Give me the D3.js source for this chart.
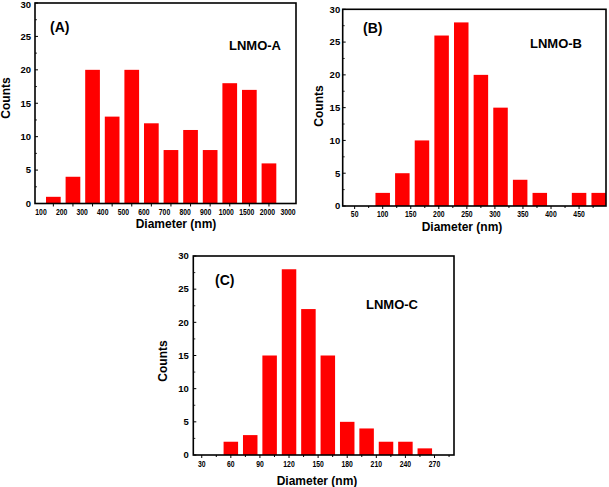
<!DOCTYPE html>
<html><head><meta charset="utf-8">
<script src="https://cdn.jsdelivr.net/npm/d3@7"></script>
<style>
html,body{margin:0;padding:0;background:#fff;}
text{font-family:"Liberation Sans",Arial,Helvetica,sans-serif;font-weight:bold;fill:#000;}
</style></head>
<body><svg id="c" width="609" height="487"></svg>
<script>
// ---- data ----
const binsA = ["100-200","200-300","300-400","400-500","500-600","600-700","700-800","800-900","900-1000","1000-1500","1500-2000","2000-3000"];
const countsA = [1,4,20,13,20,12,8,11,8,18,17,6];
const tickLabelsA = ["100","200","300","400","500","600","700","800","900","1000","1500","2000","3000"];

const binsB = [100,135,170,205,240,275,310,345,380,415,450,485];
const countsB = [2,5,10,26,28,20,15,4,2,0,2,2];
const tickLabelsB = [50,100,150,200,250,300,350,400,450];

const binsC = [60,80,100,120,140,160,180,200,220,240,260];
const countsC = [2,3,15,28,22,15,5,4,2,2,1];
const tickLabelsC = [30,60,90,120,150,180,210,240,270];

const yTicks = [0,5,10,15,20,25,30];
const yMinor = [2.5,7.5,12.5,17.5,22.5,27.5];

const svg = d3.select("#c");
const RED = "#ff0000";

function frame(g, L, R, T, B){
  g.append("rect").attr("x",L).attr("y",T).attr("width",R-L).attr("height",B-T)
   .attr("fill","none").attr("stroke","#000").attr("stroke-width",1.6);
}
function yAxis(g, y, L, gap){
  yTicks.forEach(t=>{
    g.append("line").attr("x1",L).attr("x2",L+3).attr("y1",y(t)).attr("y2",y(t)).attr("stroke","#000").attr("stroke-width",1);
    g.append("text").attr("x",L-gap).attr("y",Math.max(y(t),4.2)).attr("dy","0.35em").attr("text-anchor","end")
     .attr("font-size",9.5).text(t);
  });
  yMinor.forEach(t=>{
    g.append("line").attr("x1",L).attr("x2",L+2).attr("y1",y(t)).attr("y2",y(t)).attr("stroke","#000").attr("stroke-width",0.8);
  });
}
function xLabel(g, x, yb, s){
  g.append("text").attr("x",x).attr("y",yb).attr("text-anchor","middle")
   .attr("font-size",9.5).attr("textLength",String(s).length*3.8).attr("lengthAdjust","spacingAndGlyphs").text(s);
}
function titles(g, cx, cyb, countsX, countsY, tag, tagX, tagY, name, nameX, nameY){
  g.append("text").attr("x",cx).attr("y",cyb).attr("text-anchor","middle").attr("font-size",12).text("Diameter (nm)");
  g.append("text").attr("transform",`translate(${countsX},${countsY}) rotate(-90)`).attr("text-anchor","middle").attr("font-size",12).text("Counts");
  g.append("text").attr("x",tagX).attr("y",tagY).attr("font-size",14).text(tag);
  g.append("text").attr("x",nameX).attr("y",nameY).attr("font-size",13).text(name);
}

// ---- Panel A ----
{
  const L=35,R=296,T=3,B=203.5;
  const g = svg.append("g");
  const y = d3.scaleLinear().domain([0,30]).range([B,T]);
  const x = d3.scaleBand().domain(binsA).range([43.55,278.75]).paddingInner(0.25).paddingOuter(0.125);
  const xl = d3.scalePoint().domain(tickLabelsA).range([41,288]);
  g.selectAll("rect.bar").data(binsA).join("rect").attr("class","bar")
   .attr("x",d=>x(d)).attr("width",x.bandwidth())
   .attr("y",(d,i)=>y(countsA[i])).attr("height",(d,i)=>y(0)-y(countsA[i])).attr("fill",RED);
  frame(g,L,R,T,B);
  yAxis(g,y,L,4);
  binsA.forEach(d=>{
    g.append("line").attr("x1",x(d)+x.bandwidth()/2).attr("x2",x(d)+x.bandwidth()/2).attr("y1",B).attr("y2",B+3).attr("stroke","#000");
  });
  tickLabelsA.forEach(s=>xLabel(g, xl(s), 214.5, s));
  titles(g, 176, 228, 9.5, 98, "(A)", 50, 32, "LNMO-A", 229, 50);
}

// ---- Panel B ----
{
  const L=342.7,R=606,T=9.3,B=206;
  const g = svg.append("g");
  const y = d3.scaleLinear().domain([0,30]).range([B,T]);
  const x = d3.scaleLinear().domain([28.7,498]).range([L,R]);
  const bw = 14.5;
  g.selectAll("rect.bar").data(binsB).join("rect").attr("class","bar")
   .attr("x",d=>x(d)-bw/2).attr("width",bw)
   .attr("y",(d,i)=>y(countsB[i])).attr("height",(d,i)=>y(0)-y(countsB[i])).attr("fill",RED);
  frame(g,L,R,T,B);
  yAxis(g,y,L,2.5);
  tickLabelsB.forEach(t=>{
    g.append("line").attr("x1",x(t)).attr("x2",x(t)).attr("y1",B).attr("y2",B+3).attr("stroke","#000");
    g.append("line").attr("x1",x(t+25)).attr("x2",x(t+25)).attr("y1",B).attr("y2",B+2).attr("stroke","#000");
    xLabel(g, x(t), 217, t);
  });
  titles(g, 462, 231, 322.5, 106, "(B)", 363, 33, "LNMO-B", 530, 48);
}

// ---- Panel C ----
{
  const L=193.3,R=454,T=256,B=455;
  const g = svg.append("g");
  const y = d3.scaleLinear().domain([0,30]).range([B,T]);
  const x = d3.scaleLinear().domain([21.3,290.1]).range([L,R]);
  const bw = 14.5;
  g.selectAll("rect.bar").data(binsC).join("rect").attr("class","bar")
   .attr("x",d=>x(d)-bw/2).attr("width",bw)
   .attr("y",(d,i)=>y(countsC[i])).attr("height",(d,i)=>y(0)-y(countsC[i])).attr("fill",RED);
  frame(g,L,R,T,B);
  yAxis(g,y,L,4.5);
  tickLabelsC.forEach(t=>{
    g.append("line").attr("x1",x(t)).attr("x2",x(t)).attr("y1",B).attr("y2",B+3).attr("stroke","#000");
    g.append("line").attr("x1",x(t+15)).attr("x2",x(t+15)).attr("y1",B).attr("y2",B+2).attr("stroke","#000");
    xLabel(g, x(t), 467, t);
  });
  titles(g, 317, 484.5, 166.5, 361, "(C)", 215, 285, "LNMO-C", 366, 309);
}
</script></body></html>
